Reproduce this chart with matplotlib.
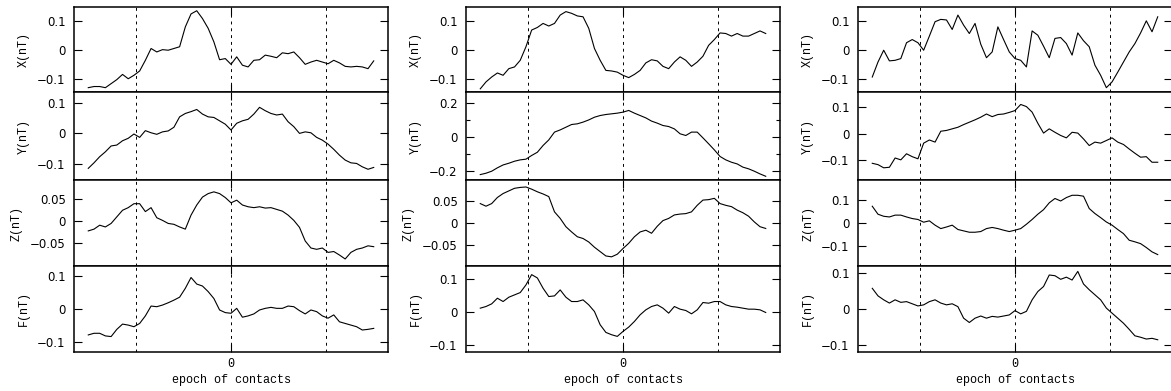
import numpy as np
import matplotlib
matplotlib.use('Agg')
import matplotlib.pyplot as plt

# epoch axis, in units of the contact spacing (contacts at -1, 0, +1)
epoch = np.round(np.arange(51) * 0.06 - 1.5, 2)
contacts = [-1, 0, 1]
row_labels = ['X(nT)', 'Y(nT)', 'Z(nT)', 'F(nT)']

# ---- column 1 ----
c1_X = [-0.130, -0.126, -0.126, -0.130, -0.116, -0.102, -0.084, -0.099, -0.087, -0.072,
        -0.035, 0.006, -0.006, 0.002, 0.000, 0.006, 0.012, 0.081, 0.126, 0.137,
        0.110, 0.076, 0.029, -0.033, -0.029, -0.049, -0.023, -0.052, -0.058, -0.035,
        -0.033, -0.017, -0.021, -0.026, -0.009, -0.012, -0.006, -0.026, -0.049, -0.041,
        -0.035, -0.041, -0.047, -0.035, -0.044, -0.056, -0.058, -0.056, -0.058, -0.064,
        -0.037]
c1_Y = [-0.114, -0.096, -0.076, -0.060, -0.041, -0.038, -0.024, -0.016, -0.002, -0.013,
        0.009, 0.002, -0.003, 0.005, 0.008, 0.020, 0.054, 0.065, 0.071, 0.078,
        0.063, 0.054, 0.052, 0.041, 0.030, 0.011, 0.033, 0.041, 0.046, 0.063,
        0.085, 0.074, 0.065, 0.060, 0.063, 0.038, 0.022, 0.000, 0.005, 0.002,
        -0.013, -0.022, -0.035, -0.052, -0.071, -0.087, -0.096, -0.098, -0.109, -0.117,
        -0.111]
c1_Z = [-0.022, -0.018, -0.009, -0.013, -0.005, 0.010, 0.025, 0.031, 0.040, 0.040,
        0.022, 0.031, 0.008, 0.002, -0.005, -0.007, -0.013, -0.018, 0.014, 0.037,
        0.055, 0.063, 0.067, 0.063, 0.054, 0.042, 0.048, 0.037, 0.033, 0.031,
        0.033, 0.030, 0.031, 0.027, 0.023, 0.014, 0.002, -0.014, -0.045, -0.061,
        -0.064, -0.061, -0.071, -0.069, -0.077, -0.086, -0.071, -0.064, -0.061, -0.056,
        -0.058]
c1_F = [-0.079, -0.074, -0.074, -0.082, -0.084, -0.062, -0.046, -0.049, -0.054, -0.044,
        -0.021, 0.009, 0.007, 0.012, 0.019, 0.027, 0.036, 0.063, 0.096, 0.076,
        0.070, 0.053, 0.032, -0.003, -0.011, -0.013, 0.002, -0.025, -0.021, -0.015,
        -0.003, 0.002, 0.005, 0.002, 0.002, 0.009, 0.007, -0.005, -0.015, -0.003,
        -0.008, -0.021, -0.028, -0.018, -0.039, -0.044, -0.049, -0.054, -0.064, -0.062,
        -0.059]

# ---- column 2 ----
c2_X = [-0.134, -0.110, -0.093, -0.079, -0.087, -0.064, -0.058, -0.035, 0.012, 0.070,
        0.079, 0.093, 0.084, 0.093, 0.122, 0.134, 0.128, 0.119, 0.116, 0.076,
        0.006, -0.035, -0.070, -0.072, -0.076, -0.087, -0.095, -0.084, -0.070, -0.044,
        -0.033, -0.037, -0.056, -0.064, -0.041, -0.023, -0.035, -0.056, -0.041, -0.021,
        0.017, 0.037, 0.060, 0.058, 0.049, 0.058, 0.049, 0.049, 0.058, 0.067,
        0.058]
c2_Y = [-0.221, -0.213, -0.201, -0.181, -0.164, -0.154, -0.142, -0.134, -0.130, -0.108,
        -0.089, -0.049, -0.016, 0.030, 0.043, 0.059, 0.075, 0.079, 0.089, 0.102,
        0.118, 0.128, 0.134, 0.138, 0.142, 0.148, 0.158, 0.142, 0.128, 0.114,
        0.095, 0.083, 0.069, 0.063, 0.049, 0.020, 0.010, 0.030, 0.030, -0.004,
        -0.039, -0.075, -0.114, -0.134, -0.148, -0.158, -0.177, -0.187, -0.201, -0.217,
        -0.231]
c2_Z = [0.044, 0.038, 0.044, 0.058, 0.067, 0.073, 0.079, 0.081, 0.082, 0.077,
        0.071, 0.066, 0.060, 0.025, 0.010, -0.009, -0.021, -0.032, -0.036, -0.044,
        -0.056, -0.066, -0.076, -0.078, -0.072, -0.059, -0.047, -0.032, -0.021, -0.017,
        -0.024, -0.008, 0.005, 0.010, 0.018, 0.020, 0.021, 0.025, 0.040, 0.052,
        0.053, 0.056, 0.044, 0.040, 0.037, 0.029, 0.023, 0.015, 0.002, -0.009,
        -0.013]
c2_F = [0.012, 0.017, 0.025, 0.042, 0.032, 0.045, 0.052, 0.059, 0.082, 0.113,
        0.103, 0.072, 0.047, 0.049, 0.067, 0.045, 0.032, 0.032, 0.037, 0.022,
        0.002, -0.038, -0.061, -0.068, -0.073, -0.058, -0.045, -0.028, -0.008, 0.007,
        0.017, 0.022, 0.012, -0.003, 0.017, 0.009, 0.005, -0.005, 0.007, 0.029,
        0.027, 0.032, 0.032, 0.022, 0.017, 0.015, 0.012, 0.009, 0.009, 0.007,
        -0.001]

# ---- column 3 ----
c3_X = [-0.093, -0.041, 0.000, -0.037, -0.035, -0.029, 0.026, 0.037, 0.026, 0.000,
        0.049, 0.099, 0.107, 0.105, 0.072, 0.122, 0.087, 0.058, 0.093, 0.021,
        -0.026, -0.006, 0.081, 0.037, -0.006, -0.029, -0.035, -0.058, 0.067, 0.052,
        0.014, -0.026, 0.041, 0.044, 0.023, -0.017, 0.060, 0.033, 0.012, -0.052,
        -0.087, -0.130, -0.110, -0.076, -0.041, -0.006, 0.023, 0.060, 0.102, 0.064,
        0.116]
c3_Y = [-0.111, -0.116, -0.128, -0.126, -0.091, -0.098, -0.075, -0.086, -0.094, -0.035,
        -0.023, -0.031, 0.010, 0.013, 0.019, 0.025, 0.035, 0.044, 0.053, 0.063,
        0.075, 0.065, 0.073, 0.075, 0.081, 0.088, 0.111, 0.103, 0.082, 0.040,
        0.003, 0.019, 0.006, -0.006, -0.015, 0.006, 0.003, -0.019, -0.044, -0.031,
        -0.035, -0.025, -0.015, -0.031, -0.040, -0.057, -0.073, -0.088, -0.086, -0.107,
        -0.107]
c3_Z = [0.073, 0.038, 0.029, 0.026, 0.034, 0.034, 0.026, 0.019, 0.015, 0.003,
        0.009, -0.010, -0.025, -0.018, -0.010, -0.029, -0.035, -0.041, -0.041, -0.038,
        -0.025, -0.020, -0.025, -0.032, -0.038, -0.032, -0.025, -0.006, 0.015, 0.038,
        0.058, 0.088, 0.107, 0.096, 0.111, 0.121, 0.121, 0.117, 0.063, 0.041,
        0.023, 0.004, -0.010, -0.029, -0.047, -0.076, -0.083, -0.091, -0.108, -0.127,
        -0.139]
c3_F = [0.058, 0.037, 0.026, 0.017, 0.026, 0.019, 0.021, 0.015, 0.009, 0.012,
        0.021, 0.026, 0.017, 0.012, 0.015, 0.007, -0.025, -0.037, -0.025, -0.019,
        -0.025, -0.020, -0.022, -0.019, -0.016, -0.004, -0.013, -0.006, 0.026, 0.049,
        0.063, 0.095, 0.093, 0.083, 0.089, 0.081, 0.105, 0.070, 0.054, 0.040,
        0.026, 0.003, -0.011, -0.025, -0.039, -0.056, -0.074, -0.078, -0.083, -0.081,
        -0.085]

columns = [
    [c1_X, c1_Y, c1_Z, c1_F],
    [c2_X, c2_Y, c2_Z, c2_F],
    [c3_X, c3_Y, c3_Z, c3_F],
]

# axis limits and ticks per panel
ylims = [
    [(-0.145, 0.150), (-0.152, 0.135), (-0.102, 0.094), (-0.131, 0.131)],
    [(-0.145, 0.150), (-0.253, 0.267), (-0.099, 0.098), (-0.120, 0.139)],
    [(-0.145, 0.150), (-0.174, 0.158), (-0.189, 0.188), (-0.119, 0.120)],
]
t1 = [-0.1, 0, 0.1]
t5 = [-0.05, 0, 0.05]
t2 = [-0.2, 0, 0.2]
major = [[t1, t1, t5, t1], [t1, t2, t5, t1], [t1, t1, t1, t1]]
minor = [[[], [], [], []], [[], [-0.1, 0.1], [], []], [[], [], [], []]]


def fmt(v):
    s = '%g' % v
    return s.replace('-', '\u2212')


W, H = 1171.0, 391.0
fig = plt.figure(figsize=(W / 100, H / 100), dpi=100)

col_left = [74, 466, 858]
col_w = 314
row_edges = [7, 92, 180, 266, 352]

for c in range(3):
    for r in range(4):
        top, bot = row_edges[r], row_edges[r + 1]
        ax = fig.add_axes([col_left[c] / W, 1 - bot / H, col_w / W, (bot - top) / H])
        ax.plot(epoch, columns[c][r], color='black', lw=0.8)
        for xc in contacts:
            ax.axvline(xc, color='black', lw=0.7, ls=(0, (3, 4)))
        ax.set_xlim(-1.65, 1.65)
        ax.set_ylim(*ylims[c][r])
        ax.set_yticks(major[c][r])
        ax.set_yticklabels([fmt(v) for v in major[c][r]],
                           fontfamily='DejaVu Sans', fontsize=8.5)
        ax.set_yticks(minor[c][r], minor=True)
        ax.set_xticks([0])
        ax.tick_params(axis='both', which='major', direction='in', length=6,
                       width=0.8, right=True, top=True, pad=6)
        ax.tick_params(axis='both', which='minor', direction='in', length=3,
                       width=0.8, right=True, top=True)
        for sp in ax.spines.values():
            sp.set_linewidth(1.1)
        ax.set_ylabel(row_labels[r], fontfamily='Liberation Mono', fontsize=8.5,
                      labelpad=5)
        if r == 3:
            ax.set_xticklabels(['0'], fontfamily='Liberation Mono', fontsize=8.5)
            ax.tick_params(axis='x', pad=4)
            ax.set_xlabel('epoch of contacts', fontfamily='Liberation Mono',
                          fontsize=8.5, labelpad=3)
        else:
            ax.set_xticklabels([])

fig.savefig('out.png', dpi=100)
